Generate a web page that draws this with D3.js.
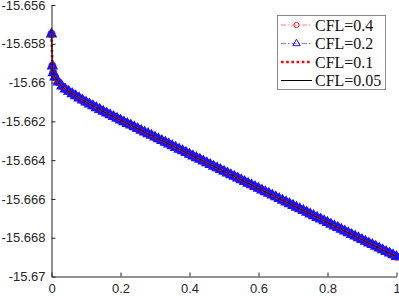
<!DOCTYPE html>
<html><head><meta charset="utf-8">
<script src="https://cdn.jsdelivr.net/npm/d3@7"></script>
<style>html,body{margin:0;padding:0;background:#fff;}svg{display:block;}</style>
</head><body><svg id="c" width="399" height="296"></svg>
<script>
const timeValues = [0,0.0025,0.005,0.01,0.02,0.03,0.04,0.05,0.06,0.07,0.08,0.09,0.10,0.11,0.12,0.13,0.14,0.15,0.16,0.17,0.18,0.19,0.20,
0.21,0.22,0.23,0.24,0.25,0.26,0.27,0.28,0.29,0.30,0.31,0.32,0.33,0.34,0.35,0.36,0.37,0.38,0.39,0.40,
0.41,0.42,0.43,0.44,0.45,0.46,0.47,0.48,0.49,0.50,0.51,0.52,0.53,0.54,0.55,0.56,0.57,0.58,0.59,0.60,
0.61,0.62,0.63,0.64,0.65,0.66,0.67,0.68,0.69,0.70,0.71,0.72,0.73,0.74,0.75,0.76,0.77,0.78,0.79,0.80,
0.81,0.82,0.83,0.84,0.85,0.86,0.87,0.88,0.89,0.90,0.91,0.92,0.93,0.94,0.95,0.96,0.97,0.98,0.99,1.00];
const energyValues = [-15.65750,-15.65915,-15.65950,-15.65972,-15.65998,-15.66019,-15.66034,-15.66046,-15.66058,-15.66069,-15.66080,-15.66091,-15.66101,-15.66111,-15.66120,-15.66130,-15.66139,-15.66149,-15.66158,-15.66167,-15.66176,-15.66185,-15.66194,
-15.66203,-15.66212,-15.66220,-15.66229,-15.66238,-15.66247,-15.66256,-15.66264,-15.66273,-15.66282,-15.66291,-15.66300,-15.66308,-15.66317,-15.66326,-15.66335,-15.66344,-15.66352,-15.66361,-15.66370,
-15.66379,-15.66388,-15.66396,-15.66405,-15.66414,-15.66423,-15.66432,-15.66440,-15.66449,-15.66458,-15.66467,-15.66476,-15.66484,-15.66493,-15.66502,-15.66511,-15.66520,-15.66528,-15.66537,-15.66546,
-15.66555,-15.66564,-15.66572,-15.66581,-15.66590,-15.66599,-15.66608,-15.66616,-15.66625,-15.66634,-15.66643,-15.66652,-15.66660,-15.66669,-15.66678,-15.66687,-15.66696,-15.66704,-15.66713,-15.66722,
-15.66731,-15.66740,-15.66748,-15.66757,-15.66766,-15.66775,-15.66784,-15.66792,-15.66801,-15.66810,-15.66819,-15.66828,-15.66836,-15.66845,-15.66854,-15.66863,-15.66872,-15.66880,-15.66889,-15.66898];
const seriesLabels = ["CFL=0.4","CFL=0.2","CFL=0.1","CFL=0.05"];
const xTicks = [0,0.2,0.4,0.6,0.8,1];
const xTickLabels = ["0","0.2","0.4","0.6","0.8","1"];
const yTicks = [-15.656,-15.658,-15.66,-15.662,-15.664,-15.666,-15.668,-15.67];
const yTickLabels = ["-15.656","-15.658","-15.66","-15.662","-15.664","-15.666","-15.668","-15.67"];

const styles = [
  {line:"#ff8080", width:1, dash:"5,2,1.5,2", marker:"circle", msize:34, mcolor:"#ff2020", mwidth:1.6, mfill:"none"},
  {line:"#8080ff", width:1, dash:"5,2,1.5,2", marker:"triangle", msize:34, mcolor:"#1414ff", mwidth:1.6, mfill:"#1414ff"},
  {line:"#ff0000", width:2.6, dash:"2.6,2.6", marker:null},
  {line:"#000000", width:1, dash:null, marker:null}
];

const svg = d3.select("#c");
const x = d3.scaleLinear().domain([0,1]).range([51.5,396.5]);
const y = d3.scaleLinear().domain([-15.67,-15.656]).range([276.5,5]);
const axisColor = "#262626";

const pts = timeValues.map((t,i)=>[t, energyValues[i]]);
const line = d3.line().x(d=>x(d[0])).y(d=>y(d[1]));

const symbolFor = (s, legend) => d3.symbol()
  .type(s.marker === "circle" ? d3.symbolCircle : d3.symbolTriangle)
  .size(legend ? (s.marker === "circle" ? 22 : 24) : s.msize)();

styles.forEach((s,i)=>{
  const g = svg.append("g");
  if (s.marker) {
    g.selectAll("path.m").data(pts).enter().append("path")
      .attr("d", symbolFor(s,false))
      .attr("transform", d=>`translate(${x(d[0])},${y(d[1])})`)
      .attr("fill", s.mfill).attr("stroke", s.mcolor).attr("stroke-width",s.mwidth);
  }
  g.append("path").datum(pts).attr("d", line)
    .attr("fill","none").attr("stroke", s.line).attr("stroke-width", s.width)
    .attr("stroke-dasharray", s.dash);
});

// axes
const xAxis = d3.axisBottom(x).tickValues(xTicks).tickFormat((d,i)=>xTickLabels[i]).tickSizeInner(-4).tickSizeOuter(0).tickPadding(7.5);
const gx = svg.append("g").attr("transform","translate(0,276.5)").call(xAxis);
const yAxis = d3.axisLeft(y).tickValues(yTicks).tickFormat((d,i)=>yTickLabels[i]).tickSizeInner(-4).tickSizeOuter(0).tickPadding(6);
const gy = svg.append("g").attr("transform","translate(51.5,0)").call(yAxis);
[gx,gy].forEach(g=>{
  g.select(".domain").attr("stroke",axisColor);
  g.selectAll(".tick line").attr("stroke",axisColor);
  g.selectAll(".tick text").attr("fill",axisColor).attr("font-family","'Liberation Sans', Arial, sans-serif").attr("font-size",13);
});

// legend
const lg = svg.append("g");
lg.append("rect").attr("x",277.5).attr("y",15.5).attr("width",108).attr("height",74)
  .attr("fill","#fff").attr("stroke","#8a8a8a").attr("stroke-width",1);
const rowY = [25,43.5,62,80.5];
seriesLabels.forEach((lab,i)=>{
  const s = styles[i];
  lg.append("line").attr("x1",281).attr("x2",312).attr("y1",rowY[i]).attr("y2",rowY[i])
    .attr("stroke",s.line).attr("stroke-width",s.width).attr("stroke-dasharray",s.dash);
  if (s.marker) {
    lg.append("path").attr("d", symbolFor(s,true)).attr("transform",`translate(296.5,${rowY[i]})`)
      .attr("fill","none").attr("stroke",s.mcolor).attr("stroke-width",1);
  }
  lg.append("text").attr("x",315).attr("y",rowY[i]+5.5).text(lab)
    .attr("font-family","'Liberation Serif','DejaVu Serif',serif").attr("font-size",16)
    .attr("fill","#111");
});
</script></body></html>
